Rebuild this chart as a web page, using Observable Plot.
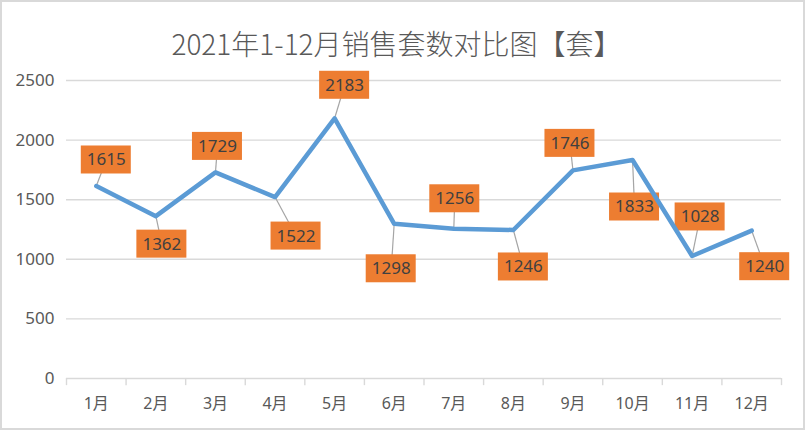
<!DOCTYPE html>
<html>
<head>
<meta charset="utf-8">
<script src="https://cdn.jsdelivr.net/npm/d3@7"></script>
<script src="https://cdn.jsdelivr.net/npm/@observablehq/plot@0.6"></script>
<style>
  html, body { margin: 0; padding: 0; background: #fff; }
  #wrap { position: relative; width: 805px; height: 430px; overflow: hidden; background: #fff; }
  #title { height: 62px; box-sizing: border-box; padding-top: 29px; line-height: 29px; font-size: 28px;
           text-align: center; color: #595959; font-family: "Noto Sans CJK SC", "Noto Sans", sans-serif; font-weight: 300;
           padding-right: 12px; white-space: nowrap; }
  #frame { position: absolute; left: 0; top: 0; width: 805px; height: 430px; box-sizing: border-box;
           border: 2px solid #d9d9d9; pointer-events: none; }
  svg { display: block; }
</style>
</head>
<body>
<div id="wrap">
  <div id="title">2021年1-12月销售套数对比图【套】</div>
  <div id="chart"></div>
  <div id="frame"></div>
</div>
<script>
const months = ["1月","2月","3月","4月","5月","6月","7月","8月","9月","10月","11月","12月"];
const sales = [1615, 1362, 1729, 1522, 2183, 1298, 1256, 1246, 1746, 1833, 1028, 1240];
const yTicks = [0, 500, 1000, 1500, 2000, 2500];
// label placement offsets (pixels) from each point to its label box centre
const labelDx = [10, 6, 2, 21, 10, -3, 1, 10, -3, 2, 8, 13];
const labelDy = [-26, 28, -26, 39, -33, 45, -30, 37, -27, 47, -39, 36];

const W = 805, H = 368, mT = 18, mB = 52, mL = 66, mR = 24;
const pxPerX = (W - mL - mR) / 12;
const pxPerY = (H - mT - mB) / 2500;

const data = sales.map((v, i) => ({
  m: i + 1, month: months[i], v,
  lx: i + 1 + labelDx[i] / pxPerX,
  ly: v - labelDy[i] / pxPerY
}));
const edges = d3.range(0.5, 13, 1);

const font = "'Noto Sans', 'Noto Sans CJK SC', sans-serif";

const chart = Plot.plot({
  width: W, height: H,
  marginTop: mT, marginBottom: mB, marginLeft: mL, marginRight: mR,
  style: { fontFamily: font, background: "transparent", overflow: "visible" },
  x: { type: "linear", domain: [0.5, 12.5], axis: null },
  y: { type: "linear", domain: [0, 2500], axis: null },
  marks: [
    Plot.ruleY(yTicks, { stroke: "#d9d9d9", strokeWidth: 1.4 }),
    Plot.ruleX(edges, { y1: 0, y2: -60, stroke: "#d9d9d9", strokeWidth: 1.4 }),
    Plot.text(yTicks, { x: 0.5, y: d => d, text: d => String(d), dx: -12, textAnchor: "end",
      fontSize: 17, fill: "#595959" }),
    Plot.text(data, { x: "m", y: 0, text: "month", dy: 25, fontSize: 16, fill: "#595959" }),
    Plot.link(data, { x1: "m", y1: "v", x2: "lx", y2: "ly", stroke: "#a5a5a5", strokeWidth: 1.2 }),
    Plot.rect(data, { x1: "lx", x2: "lx", y1: "ly", y2: "ly", fill: "#ed7d31",
      insetLeft: -25, insetRight: -25, insetTop: -14, insetBottom: -14 }),
    Plot.line(data, { x: "m", y: "v", stroke: "#5b9bd5", strokeWidth: 4.5,
      strokeLinejoin: "round", strokeLinecap: "round" }),
    Plot.text(data, { x: "lx", y: "ly", text: d => String(d.v), fontSize: 17, fill: "#404040" })
  ]
});
document.getElementById("chart").appendChild(chart);
</script>
</body>
</html>
